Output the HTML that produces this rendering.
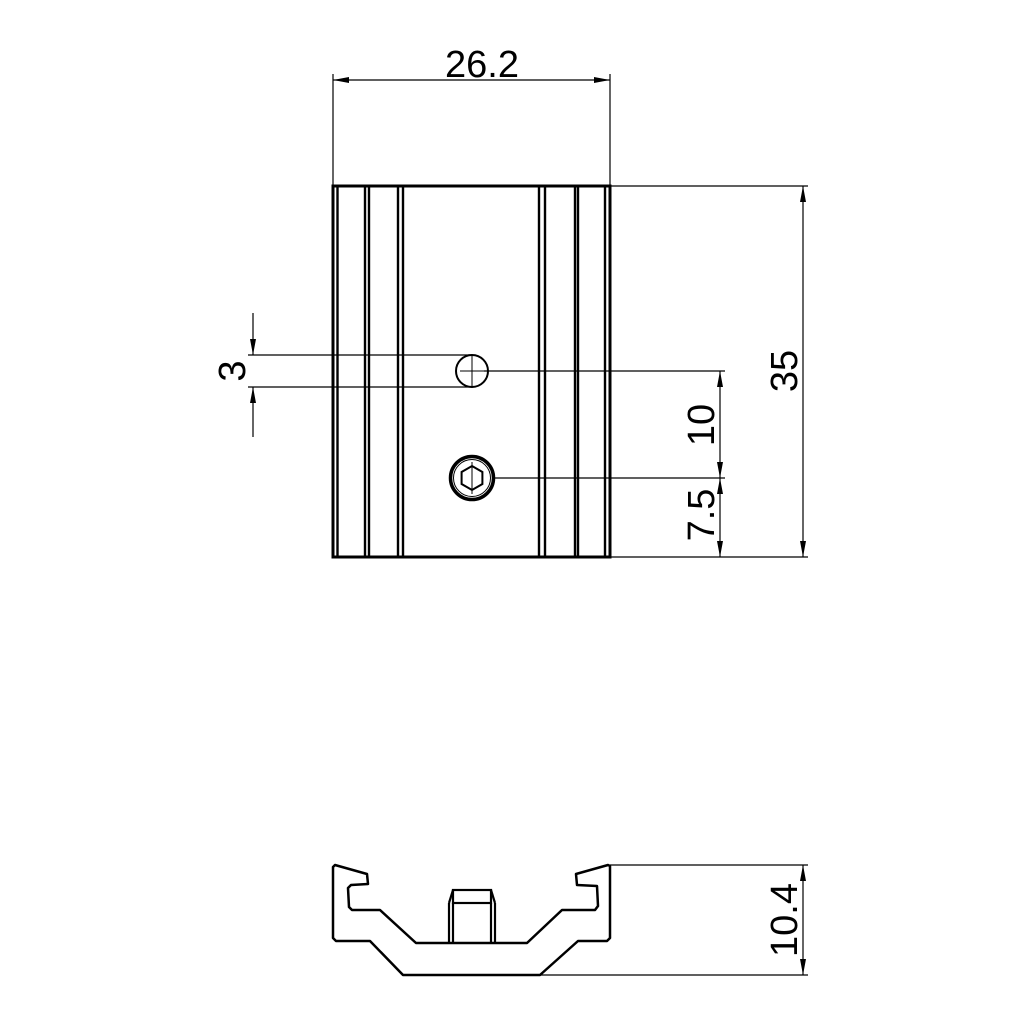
<!DOCTYPE html>
<html><head><meta charset="utf-8"><style>html,body{margin:0;padding:0;background:#fff}svg{display:block}</style></head>
<body>
<svg width="1024" height="1024" viewBox="0 0 1024 1024" xmlns="http://www.w3.org/2000/svg">
<defs>
<marker id="a" viewBox="0 0 16 6" refX="16" refY="3" markerWidth="16" markerHeight="6" markerUnits="userSpaceOnUse" orient="auto-start-reverse">
<path d="M0,0 L16,3 L0,6 z" fill="#000"/></marker>
</defs>
<g fill="none" stroke="#000">
<rect x="333" y="186" width="277" height="371" stroke-width="3"/>
<g stroke-width="2.4">
<line x1="337.5" y1="186" x2="337.5" y2="557"/>
<line x1="365" y1="186" x2="365" y2="557"/><line x1="369" y1="186" x2="369" y2="557"/>
<line x1="398" y1="186" x2="398" y2="557"/><line x1="403" y1="186" x2="403" y2="557"/>
<line x1="539" y1="186" x2="539" y2="557"/><line x1="545" y1="186" x2="545" y2="557"/>
<line x1="575" y1="186" x2="575" y2="557"/><line x1="578" y1="186" x2="578" y2="557"/>
<line x1="605" y1="186" x2="605" y2="557"/>
</g>
<circle cx="472" cy="371" r="16" stroke-width="2"/>
<line x1="472" y1="355" x2="472" y2="387" stroke-width="1"/>
<line x1="460" y1="371" x2="484" y2="371" stroke-width="1"/>
<circle cx="472" cy="478" r="21.5" stroke-width="3.5"/>
<circle cx="472" cy="478" r="18.5" stroke-width="1"/>
<polygon points="472,466 482.4,472 482.4,484 472,490 461.6,484 461.6,472" stroke-width="2"/>
<line x1="472" y1="462" x2="472" y2="494" stroke-width="1"/>
<g stroke-width="1.2">
<line x1="333" y1="74" x2="333" y2="186"/>
<line x1="610" y1="74" x2="610" y2="186"/>
<line x1="333" y1="80" x2="610" y2="80" marker-start="url(#a)" marker-end="url(#a)"/>
<line x1="610" y1="186" x2="808" y2="186"/>
<line x1="610" y1="557" x2="808" y2="557"/>
<line x1="803" y1="186" x2="803" y2="557" marker-start="url(#a)" marker-end="url(#a)"/>
<line x1="484" y1="371" x2="725" y2="371"/>
<line x1="494" y1="478" x2="725" y2="478"/>
<line x1="720" y1="371" x2="720" y2="478" marker-start="url(#a)" marker-end="url(#a)"/>
<line x1="720" y1="478" x2="720" y2="557" marker-start="url(#a)" marker-end="url(#a)"/>
<line x1="248" y1="355" x2="472" y2="355"/>
<line x1="248" y1="387" x2="472" y2="387"/>
<line x1="253" y1="313" x2="253" y2="355" marker-end="url(#a)"/>
<line x1="253" y1="437" x2="253" y2="387" marker-end="url(#a)"/>
<line x1="610" y1="865" x2="808" y2="865"/>
<line x1="540" y1="975" x2="808" y2="975"/>
<line x1="803" y1="865" x2="803" y2="975" marker-start="url(#a)" marker-end="url(#a)"/>
</g>
<path stroke-width="2.5" stroke-linejoin="round" d="M335,865 L367,874 L368,884 L351,885 L348,888 L349,907 L352,910 L380,910 L416,943 L527,943 L562,910 L595,910 L598,906 L597,886 L577,885 L576,874 L608,865 L610,866 L610,938 L607,941 L578,941 L540,975 L403,975 L370,941 L336,941 L333,938 L333,867 Z"/>
<g stroke-width="2.2">
<rect x="453" y="890" width="38" height="13"/>
<line x1="449" y1="903" x2="453" y2="890"/><line x1="495" y1="903" x2="491" y2="890"/>
<line x1="449" y1="903" x2="449" y2="943"/><line x1="453" y1="903" x2="453" y2="943"/>
<line x1="491" y1="903" x2="491" y2="943"/><line x1="495" y1="903" x2="495" y2="943"/>
</g>
</g>
<g font-family="Liberation Sans, sans-serif" font-size="38" fill="#000" text-anchor="middle">
<text x="482" y="77">26.2</text>
<text transform="translate(797,371) rotate(-90)">35</text>
<text transform="translate(714,425) rotate(-90)">10</text>
<text transform="translate(714,515) rotate(-90)">7.5</text>
<text transform="translate(245,371) rotate(-90)">3</text>
<text transform="translate(797,920) rotate(-90)">10.4</text>
</g>
</svg>
</body></html>
